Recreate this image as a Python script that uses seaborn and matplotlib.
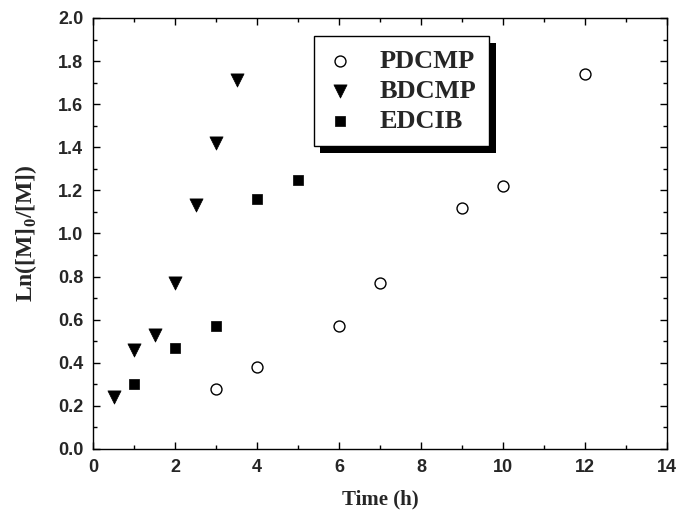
"""Ln([M]0/[M]) vs time for three initiators."""

import matplotlib

matplotlib.use("Agg")
import matplotlib.pyplot as plt
import matplotlib.patheffects as pe
import pandas as pd
import seaborn as sns
from matplotlib.ticker import FormatStrFormatter, MultipleLocator

pdcmp_time = [3, 4, 6, 7, 9, 10, 12]
pdcmp_ln = [0.28, 0.38, 0.57, 0.77, 1.12, 1.22, 1.74]

bdcmp_time = [0.5, 1, 1.5, 2, 2.5, 3, 3.5]
bdcmp_ln = [0.24, 0.46, 0.53, 0.77, 1.13, 1.42, 1.71]

edcib_time = [1, 2, 3, 4, 5]
edcib_ln = [0.30, 0.47, 0.57, 1.16, 1.25]

series = {
    "PDCMP": (pdcmp_time, pdcmp_ln),
    "BDCMP": (bdcmp_time, bdcmp_ln),
    "EDCIB": (edcib_time, edcib_ln),
}
styles = {
    "PDCMP": dict(marker="o", s=62, facecolor="white", edgecolor="black", linewidth=1.0),
    "BDCMP": dict(marker="v", s=90, color="black", edgecolor="black", linewidth=0.5),
    "EDCIB": dict(marker="s", s=50, color="black", edgecolor="black", linewidth=0.5),
}

sns.set_style("ticks")
plt.rcParams["font.family"] = ["Liberation Sans", "DejaVu Sans"]
plt.rcParams["mathtext.fontset"] = "custom"
plt.rcParams["mathtext.bf"] = "Liberation Serif:bold"
plt.rcParams["mathtext.rm"] = "Liberation Serif"

fig = plt.figure(figsize=(6.8, 5.13), dpi=100)
ax = fig.add_axes([0.137, 0.125, 0.844, 0.84])

for name, (t, v) in series.items():
    frame = pd.DataFrame({"time": t, "ln": v})
    sns.scatterplot(data=frame, x="time", y="ln", ax=ax, label=name, **styles[name])

ax.set_xlim(0, 14)
ax.set_ylim(0, 2.0)
ax.xaxis.set_major_locator(MultipleLocator(2))
ax.xaxis.set_minor_locator(MultipleLocator(1))
ax.yaxis.set_major_locator(MultipleLocator(0.2))
ax.yaxis.set_minor_locator(MultipleLocator(0.1))
ax.yaxis.set_major_formatter(FormatStrFormatter("%.1f"))
ax.tick_params(which="both", direction="in", top=True, right=True, color="black", width=1)
ax.tick_params(which="major", length=5, labelsize=13, pad=7)
ax.tick_params(which="minor", length=3)
for lab in ax.get_xticklabels() + ax.get_yticklabels():
    lab.set_fontweight("bold")
for spine in ax.spines.values():
    spine.set_visible(True)
    spine.set_color("black")
    spine.set_linewidth(1)

serif = ["Liberation Serif", "DejaVu Serif"]
ax.set_xlabel("Time (h)", family=serif, fontweight="bold", fontsize=15, labelpad=10)
ax.set_ylabel("Ln([M]$_\\mathbf{0}$/[M])", family=serif, fontweight="bold", fontsize=17, labelpad=14)

leg = ax.legend(
    loc="upper left",
    bbox_to_anchor=(0.384, 0.958),
    borderaxespad=0,
    prop={"family": serif, "weight": "bold", "size": 19},
    frameon=True,
    fancybox=False,
    edgecolor="black",
    handlelength=1.0,
    handletextpad=1.0,
    borderpad=0.5,
    labelspacing=0.25,
)
leg.get_frame().set_linewidth(1)
leg.get_frame().set_alpha(1)
leg.legendPatch.set_path_effects([
    pe.SimplePatchShadow(offset=(5, -5), shadow_rgbFace="black", alpha=1),
    pe.Normal(),
])

fig.savefig("out.png", dpi=100)
